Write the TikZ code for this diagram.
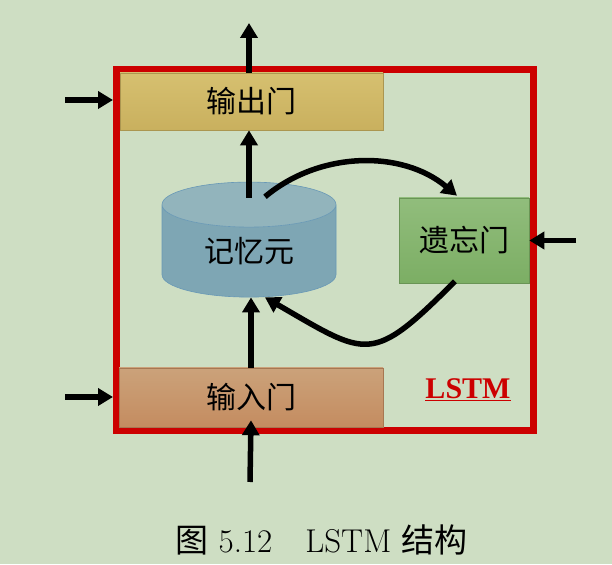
\documentclass[tikz,border=0pt]{standalone}
\usepackage{fontspec}
\newfontfamily\cjk{Noto Sans CJK SC}
\newfontfamily\timesbf{Liberation Serif}[BoldFont=* Bold]
\usetikzlibrary{shapes.geometric,arrows.meta}

\definecolor{bgc}{RGB}{206,222,195}
\definecolor{framered}{RGB}{204,0,0}
\definecolor{outtop}{RGB}{214,192,112}
\definecolor{outbot}{RGB}{201,176,94}
\definecolor{intop}{RGB}{203,162,122}
\definecolor{inbot}{RGB}{196,140,96}
\definecolor{fgtop}{RGB}{145,189,124}
\definecolor{fgbot}{RGB}{124,174,100}
\definecolor{membody}{RGB}{126,166,180}
\definecolor{memend}{RGB}{146,180,188}
\definecolor{memline}{RGB}{104,152,182}

\tikzset{
  gate/.style={rectangle,draw=#1!85!black,line width=0.6pt,inner sep=0pt,
    font=\fontsize{30}{32}\selectfont\cjk},
  arr/.style={line width=5.5pt,-{Triangle[length=15pt,width=17pt]}},
}

\begin{document}
\begin{tikzpicture}[x=1pt,y=1pt]
  \fill[bgc] (0,0) rectangle (612,564);
  \useasboundingbox (0,0) rectangle (612,564);

  \node[draw=framered,line width=7pt,minimum width=416.5pt,minimum height=361.5pt] (frame) at (324.75,313.75) {};

  \node[gate=outbot,top color=outtop,bottom color=outbot,minimum width=263pt,minimum height=57pt] (output) at (251.5,462.5) {输出门};
  \node[gate=inbot,top color=intop,bottom color=inbot,minimum width=264pt,minimum height=59pt] (input) at (251,166.5) {输入门};
  \node[gate=fgbot,top color=fgtop,bottom color=fgbot,minimum width=130pt,minimum height=85pt] (forget) at (464,323.5) {遗忘门};
  \node[cylinder,shape border rotate=90,aspect=0.5,draw=memline,line width=0.6pt,
    cylinder uses custom fill,cylinder body fill=membody,cylinder end fill=memend,
    minimum width=174pt,minimum height=115pt,inner sep=0pt,
    font=\fontsize{30}{32}\selectfont\cjk] (mem) at (249,313) {\raisebox{-6pt}{记忆元}}; %记忆元

  \node[font=\fontsize{30}{32}\selectfont\timesbf\bfseries,text=framered] (tag) at (468,174) {\underline{LSTM}};
  \node[font=\fontsize{33}{36}\selectfont] (cap) at (321.5,24) {{\cjk 图} 5.12\quad LSTM {\cjk 结构}};

  \coordinate (hout) at (249,541);
  \coordinate (hin) at (250,82);
  \coordinate (xo) at (65,464);
  \coordinate (xi) at (65,167);
  \coordinate (xf) at (576,323.5);

  \draw[arr] (output.north -| hout) -- (hout); %输出
  \draw[arr] ([yshift=-16pt]mem.north) -- (output.south -| mem.north);
  \draw[arr] (input.north) -- (input.north |- mem.south);
  \draw[arr] (hin) -- ([yshift=7pt]input.south); %输入
  \draw[arr] (xo) -- (xo -| frame.west);
  \draw[arr] (xi) -- (xi -| frame.west);
  \draw[arr] (xf) -- (forget.east);
  \draw[arr] ([xshift=16pt,yshift=-15pt]mem.north) to[out=40,in=140,looseness=0.95] ([xshift=-7pt,yshift=2pt]forget.north);
  \draw[arr] ([xshift=-9pt,yshift=2pt]forget.south) to[out=-135,in=-30,looseness=1.6] ([xshift=16pt]mem.south);
\end{tikzpicture}
\end{document}
